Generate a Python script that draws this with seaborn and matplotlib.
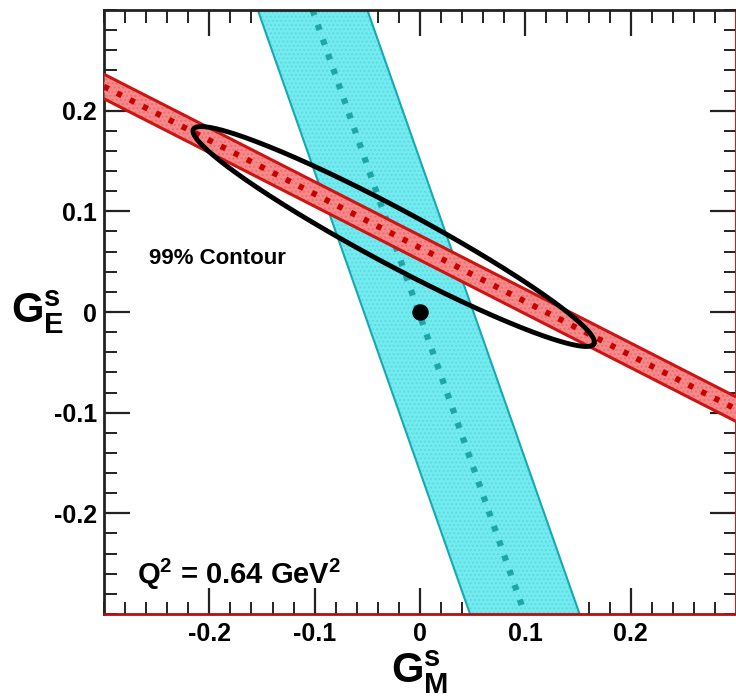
import numpy as np
import matplotlib
matplotlib.use("Agg")
import matplotlib.pyplot as plt
import matplotlib.ticker as mticker
import pandas as pd
import seaborn as sns

sns.set_theme(style="ticks")
plt.rcParams['font.family'] = ['Liberation Sans', 'DejaVu Sans']
plt.rcParams['font.weight'] = 'bold'
plt.rcParams['text.color'] = 'black'
plt.rcParams['axes.labelcolor'] = 'black'
plt.rcParams['xtick.color'] = 'black'
plt.rcParams['ytick.color'] = 'black'
plt.rcParams['mathtext.fontset'] = 'custom'
plt.rcParams['mathtext.bf'] = 'Liberation Sans:bold'
plt.rcParams['mathtext.rm'] = 'Liberation Sans:bold'

# red band: G_E as function of G_M
red_gm = [-0.3, 0.3]
red_ge = [0.224, -0.0965]
red_half = 0.0122

# cyan band: G_M as function of G_E
cyan_ge = [0.3, -0.3]
cyan_gm = [-0.102, 0.0995]
cyan_half = 0.052

# 99% contour (ellipse): centre, semi-axes, angle in degrees
ell_center = (-0.025, 0.075)
ell_axes = (0.218, 0.027)
ell_angle = -29.3

best_gm = [0.0]
best_ge = [0.0]

x_ticks = [-0.2, -0.1, 0.0, 0.1, 0.2]
x_labels = ['-0.2', '-0.1', '0', '0.1', '0.2']
y_ticks = [-0.2, -0.1, 0.0, 0.1, 0.2]
y_labels = ['-0.2', '-0.1', '0', '0.1', '0.2']

fig = plt.figure(figsize=(7.36, 6.97), dpi=100)
ax = fig.add_axes([104 / 736, 83 / 697, 632 / 736, 604 / 697])

# cyan band
cg = np.array(cyan_gm)
ax.fill_betweenx(cyan_ge, cg - cyan_half, cg + cyan_half,
                 color='#72ecf0', lw=0, zorder=1)
ax.fill_betweenx(cyan_ge, cg - cyan_half, cg + cyan_half,
                 facecolor='none', edgecolor='#60dade', hatch='....', lw=0, zorder=1)
ax.plot(cg - cyan_half, cyan_ge, color='#16a9b0', lw=1.5, zorder=2)
ax.plot(cg + cyan_half, cyan_ge, color='#16a9b0', lw=1.5, zorder=2)
sns.lineplot(x=cyan_gm, y=cyan_ge, sort=False, estimator=None, ax=ax,
             color='#1fa5a8', lw=4.5, linestyle=(0, (0.9, 1.6)),
             dash_capstyle='butt', zorder=2)

# red band
rg = np.array(red_ge)
ax.fill_between(red_gm, rg - red_half, rg + red_half,
                color='#f68a8a', lw=0, zorder=3)
ax.fill_between(red_gm, rg - red_half, rg + red_half,
                facecolor='none', edgecolor='#ea7070', hatch='....', lw=0, zorder=3)
ax.plot(red_gm, rg - red_half, color='#cc1414', lw=2.2, zorder=4)
ax.plot(red_gm, rg + red_half, color='#cc1414', lw=2.2, zorder=4)
sns.lineplot(x=red_gm, y=red_ge, sort=False, estimator=None, ax=ax,
             color='#c80000', lw=4.2, linestyle=(0, (0.9, 1.6)),
             dash_capstyle='butt', zorder=4)

# contour
t = np.linspace(0, 2 * np.pi, 300)
th = np.deg2rad(ell_angle)
ex = ell_center[0] + ell_axes[0] * np.cos(t) * np.cos(th) - ell_axes[1] * np.sin(t) * np.sin(th)
ey = ell_center[1] + ell_axes[0] * np.cos(t) * np.sin(th) + ell_axes[1] * np.sin(t) * np.cos(th)
ell = pd.DataFrame({'gm': ex, 'ge': ey})
sns.lineplot(data=ell, x='gm', y='ge', sort=False, estimator=None, ax=ax,
             color='black', lw=3.5, zorder=5)

sns.scatterplot(x=best_gm, y=best_ge, s=120, color='black', edgecolor='black',
                ax=ax, zorder=6)

ax.set_xlim(-0.3, 0.3)
ax.set_ylim(-0.3, 0.3)
ax.set_xticks(x_ticks, x_labels)
ax.set_yticks(y_ticks, y_labels)
ax.xaxis.set_minor_locator(mticker.MultipleLocator(0.02))
ax.yaxis.set_minor_locator(mticker.MultipleLocator(0.02))
ax.tick_params(which='major', direction='in', length=19, width=1.6,
               top=True, right=True, labelsize=18, color='#222222',
               labelcolor='black')
ax.tick_params(which='minor', direction='in', length=9, width=1.4,
               top=True, right=True, color='#222222')
ax.tick_params(axis='x', pad=6)
ax.tick_params(axis='y', pad=5)
for lab in ax.get_xticklabels() + ax.get_yticklabels():
    lab.set_fontweight('bold')

for s in ['left', 'top']:
    ax.spines[s].set_linewidth(2)
    ax.spines[s].set_color('#222222')
ax.spines['bottom'].set_color('#b01010')
ax.spines['bottom'].set_linewidth(2)
ax.spines['right'].set_color('#c02020')
ax.spines['right'].set_linewidth(1.5)

ax.set_xlabel(r'$\mathbf{G}^{\mathbf{s}}_{\mathbf{M}}$', fontsize=30)
ax.xaxis.set_label_coords(0.5, -0.096)
ax.xaxis.label.set_va('center')
ax.set_ylabel(r'$\mathbf{G}^{\mathbf{s}}_{\mathbf{E}}$', fontsize=30, rotation=0)
ax.yaxis.set_label_coords(-0.105, 0.5)
ax.yaxis.label.set_va('center')
ax.yaxis.label.set_ha('center')

ax.text(-0.257, 0.053, '99% Contour', fontsize=16, fontweight='bold',
        ha='left', va='center', zorder=7)
ax.text(-0.269, -0.261, r'Q$^\mathbf{2}$ = 0.64 GeV$^\mathbf{2}$', fontsize=21,
        fontweight='bold', ha='left', va='center', zorder=7)

fig.savefig('out.png', dpi=100)
